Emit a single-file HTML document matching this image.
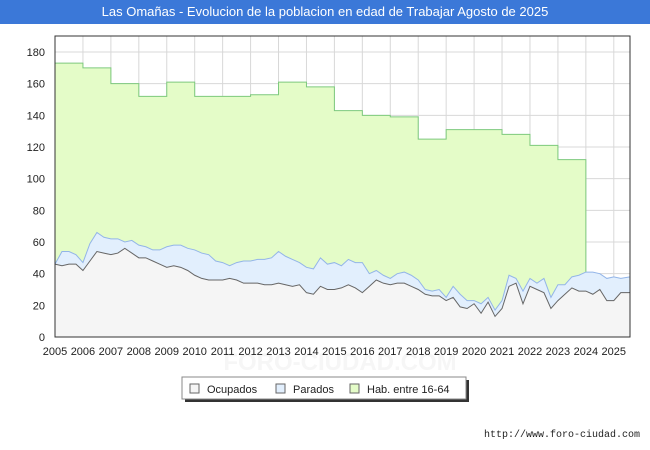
<!DOCTYPE html>
<html><head><meta charset="utf-8"><style>
body{margin:0;width:650px;height:450px;background:#fff;font-family:"Liberation Sans",sans-serif;position:relative;overflow:hidden}
#title{position:absolute;left:0;top:0;width:650px;height:24px;background:#3b78d8;color:#fff;font-size:13px;line-height:24px;text-align:center}
svg{position:absolute;left:0;top:0}
</style></head><body>
<div id="title">Las Omañas - Evolucion de la poblacion en edad de Trabajar Agosto de 2025</div>
<svg id="c" width="650" height="450"></svg>
<script>
const years=[2005,2006,2007,2008,2009,2010,2011,2012,2013,2014,2015,2016,2017,2018,2019,2020,2021,2022,2023,2024,2025];
const habitantes=[173,170,160,152,161,152,152,153,161,158,143,140,139,125,131,131,128,121,112];
const ocupados=[46,45,46,46, 42,48,54,53, 52,53,56,53, 50,50,48,46, 44,45,44,42, 39,37,36,36, 36,37,36,34, 34,34,33,33, 34,33,32,33, 28,27,32,30, 30,31,33,31, 28,32,36,34, 33,34,34,32, 30,27,26,26, 23,25,19,18, 21,15,22,13, 18,32,34,21, 32,30,28,18, 23,27,31,29, 29,27,30,23, 23,28,28];
const parados=[0,9,8,6, 5,11,12,10, 10,9,4,8, 8,7,7,9, 13,13,14,14, 16,16,16,12, 11,8,11,14, 14,15,16,17, 20,18,17,14, 16,16,18,16, 17,14,16,16, 19,8,6,5, 4,6,7,7, 6,3,3,4, 2,7,8,5, 2,6,3,4, 5,7,3,8, 5,4,9,7, 10,6,7,10, 12,14,10,14, 15,9,10];
const yTicks=[0,20,40,60,80,100,120,140,160,180];
const legendLabels=["Ocupados","Parados","Hab. entre 16-64"];
const NS="http://www.w3.org/2000/svg",svg=document.getElementById('c');
const L=55,R=630,T=36,B=337,tEnd=2025.58;
const xs=t=>L+(Math.min(t,tEnd)-2005)*(R-L)/(tEnd-2005);
const ys=v=>B-v*(B-52)/180;
function el(n,a,p){const e=document.createElementNS(NS,n);for(const k in a)e.setAttribute(k,a[k]);(p||svg).appendChild(e);return e;}
let w=el('text',{x:340,y:370,'text-anchor':'middle','font-size':24,fill:'#f6f6f6','font-weight':'bold'});w.textContent='FORO-CIUDAD.COM';

el('rect',{x:L,y:T,width:R-L,height:B-T,fill:'#fff'});
yTicks.forEach(v=>{const g=el('line',{x1:L,x2:R,y1:ys(v),y2:ys(v),stroke:'#d8d8d8'});

const t=el('text',{x:L-10,y:ys(v)+4,'text-anchor':'end','font-size':11,fill:'#222'});t.textContent=v;
});
years.forEach(y=>{const g=el('line',{x1:xs(y),x2:xs(y),y1:T,y2:B,stroke:'#d8d8d8'});

const t=el('text',{x:xs(y),y:B+18,'text-anchor':'middle','font-size':11,fill:'#222'});t.textContent=y;
});
const tq=i=>2005+i/4;
const xLast=i=>i===ocupados.length-1?R:xs(tq(i));
let hp=[];habitantes.forEach((v,i)=>{hp.push([xs(2005+i),ys(v)],[xs(2006+i),ys(v)]);});
const endT=2005+habitantes.length;
const topAt=t=>{const i=Math.min(ocupados.length-1,Math.round((t-2005)*4));return ocupados[i]+parados[i];};
hp.push([xs(endT),ys(topAt(endT))]);
const hArea='M'+xs(2005)+','+B+' '+hp.map(p=>'L'+p.join(',')).join(' ')+' L'+xs(endT)+','+B+'Z';
let a=el('path',{d:hArea,fill:'#e4fcc8'});
let l=el('path',{d:'M'+hp.map(p=>p.join(',')).join(' L'),fill:'none',stroke:'#7dc97d','stroke-width':1});

const tp=ocupados.map((o,i)=>[xLast(i),ys(o+parados[i])]);
a=el('path',{d:'M'+L+','+B+' L'+tp.map(p=>p.join(',')).join(' L')+' L'+R+','+B+'Z',fill:'#e2effd'});

l=el('path',{d:'M'+tp.map(p=>p.join(',')).join(' L'),fill:'none',stroke:'#93b5e8','stroke-width':1});

const op=ocupados.map((o,i)=>[xLast(i),ys(o)]);
a=el('path',{d:'M'+L+','+B+' L'+op.map(p=>p.join(',')).join(' L')+' L'+R+','+B+'Z',fill:'#f5f5f5'});

l=el('path',{d:'M'+op.map(p=>p.join(',')).join(' L'),fill:'none',stroke:'#666','stroke-width':1});

let f=el('rect',{x:L,y:T,width:R-L,height:B-T,fill:'none',stroke:'#333'});

let lg=el('rect',{x:185,y:380,width:284,height:22,fill:'#333'});
lg=el('rect',{x:182,y:377,width:284,height:22,fill:'#fff',stroke:'#888'});

const lgx=[190,276,350],lgc=['#f5f5f5','#e2effd','#e4fcc8'];
legendLabels.forEach((s,i)=>{const r=el('rect',{x:lgx[i],y:384,width:9,height:9,fill:lgc[i],stroke:'#666'});

const t=el('text',{x:lgx[i]+17,y:393,'font-size':11,fill:'#222'});t.textContent=s;
});
let u=el('text',{x:640,y:437,'text-anchor':'end','font-size':10,fill:'#222','font-family':'Liberation Mono, monospace'});u.textContent='http://www.foro-ciudad.com';

</script>
</body></html>
